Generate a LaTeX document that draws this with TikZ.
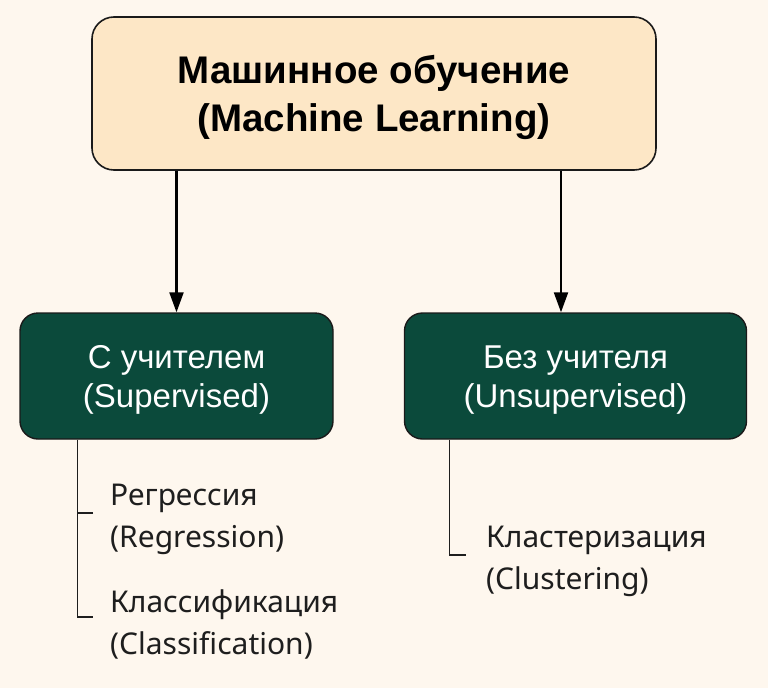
\documentclass[tikz,border=0pt]{standalone}
\usepackage{fontspec}
\setmainfont{Liberation Sans}
\newfontfamily\notofont{Noto Sans}
\usetikzlibrary{arrows.meta}
\definecolor{bgc}{HTML}{FEF7EE}
\definecolor{creamc}{HTML}{FDE7C6}
\definecolor{greenc}{HTML}{0B4A3B}
\definecolor{edgec}{HTML}{1A1A1A}
\definecolor{textc}{HTML}{1E1E1E}
\tikzset{
  mainbox/.style={draw=edgec, line width=1.6pt, fill=creamc, rounded corners=22pt, inner sep=0pt},
  maintext/.style={align=center, inner sep=0pt, font=\fontsize{38.5}{48}\selectfont\bfseries},
  catbox/.style={draw=edgec, line width=1.4pt, fill=greenc, rounded corners=18pt, inner sep=0pt},
  cattext/.style={align=center, inner sep=0pt, text=white, font=\fontsize{33}{39}\selectfont},
  leaf/.style={anchor=west, align=left, inner sep=0pt, text=textc, font=\notofont\fontsize{30}{42}\selectfont},
  arr/.style={line width=2.2pt, -{Triangle[length=20pt,width=14pt]}},
  tree/.style={line width=1.2pt, draw=textc}
}
\begin{document}
\begin{tikzpicture}[x=1pt,y=-1pt]
\fill[bgc] (0,0) rectangle (768,688);
\useasboundingbox (0,0) rectangle (768,688);
\node[mainbox, minimum width=564pt, minimum height=153pt] (top) at (374,93.5) {};
\node[maintext] (toptx) at ([yshift=-3.5pt]top.center) {Машинное обучение\\(Machine Learning)};
\node[catbox, minimum width=313pt, minimum height=126pt] (l) at (176.5,376) {};
\node[cattext] (ltx) at ([yshift=-4pt]l.center) {С учителем\\(Supervised)};
\node[catbox, minimum width=342pt, minimum height=126pt] (r) at (575.5,376) {};
\node[cattext] (rtx) at ([yshift=-4pt]r.center) {Без учителя\\(Unsupervised)};
\draw[arr] (top.south -| l.north) -- (l.north);
\draw[arr] ([xshift=-14.5pt]top.south -| r.north) -- ([xshift=-14.5pt]r.north);
\node[leaf] (reg) at (110,519) {Регрессия\\(Regression)};
\node[leaf] (cls) at (110,624) {Классификация\\(Classification)};
\node[leaf] (clu) at (486,561) {Кластеризация\\(Clustering)};
\draw[tree] ([xshift=58pt]l.south west) |- ([xshift=-17pt,yshift=7pt]cls.west);
\draw[tree] ([xshift=-17pt,yshift=6pt]reg.west) -- ++(-15,0);
\draw[tree] ([xshift=46pt]r.south west) |- ([xshift=-20pt,yshift=6pt]clu.west);
\end{tikzpicture}
\end{document}
